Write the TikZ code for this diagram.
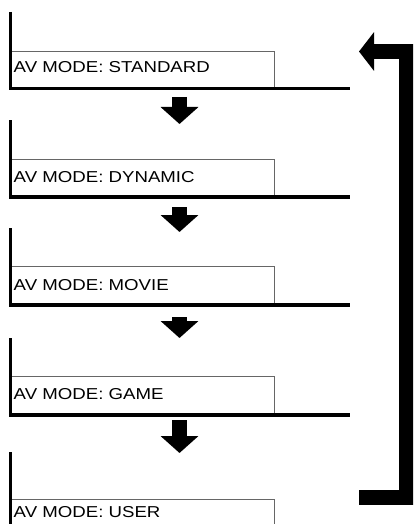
\documentclass[tikz,border=0pt]{standalone}
\usepackage{fontspec}
\setmainfont{Liberation Sans}[FakeStretch=1.18]
\usetikzlibrary{arrows.meta}
\begin{document}
\begin{tikzpicture}[x=1pt,y=-1pt,
  modebox/.style={draw=black!60, line width=0.9pt, rectangle, inner sep=0pt,
    anchor=north west, minimum width=263.5pt},
  heavy/.style={line width=3.2pt, line join=miter},
  modetext/.style={inner sep=0pt, anchor=base west, font=\fontsize{15.8}{18}\selectfont},
  fatarrow/.style={line width=15pt, -{Triangle[width=37pt,length=17pt]}},
  feedbackline/.style={line width=15.5pt, line join=miter, -{Triangle[width=38pt,length=15pt]}}]
\useasboundingbox (0,0) rectangle (413,524);
\clip (0,0) rectangle (413,524);
\coordinate (rx) at (350,0);

% boxes
\node[modebox, minimum height=37pt] (box1) at (10.5,51) {};
\node[modebox, minimum height=37pt] (box2) at (10.5,159) {};
\node[modebox, minimum height=38pt] (box3) at (10.5,266) {};
\node[modebox, minimum height=38pt] (box4) at (10.5,376) {};
\node[modebox, minimum height=40pt] (box5) at (10.5,499) {};

% heavy left and bottom edges
\draw[heavy] ([yshift=39pt]box1.north west) -- (box1.south west) -- (box1.south west -| rx);
\draw[heavy] ([yshift=39pt]box2.north west) -- (box2.south west) -- (box2.south west -| rx);
\draw[heavy] ([yshift=38pt]box3.north west) -- (box3.south west) -- (box3.south west -| rx);
\draw[heavy] ([yshift=38pt]box4.north west) -- (box4.south west) -- (box4.south west -| rx);
\draw[heavy] ([yshift=47pt]box5.north west) -- (box5.south west) -- (box5.south west -| rx);

% texts
\node[modetext] (t1) at (13.5,73) {AV MODE: STANDARD};
\node[modetext] (t2) at (13.5,182) {AV MODE: DYNAMIC};
\node[modetext] (t3) at (13.5,290) {AV MODE: MOVIE};
\node[modetext] (t4) at (13.5,399) {AV MODE: GAME};
\node[modetext] (t5) at (13.5,517) {AV MODE: USER};

% down arrows
\coordinate (a1s) at (179.5,97);  \coordinate (a1e) at (179.5,124);
\coordinate (a2s) at (179.5,207); \coordinate (a2e) at (179.5,232);
\coordinate (a3s) at (179.5,317); \coordinate (a3e) at (179.5,338);
\coordinate (a4s) at (179.5,420); \coordinate (a4e) at (179.5,453);
\draw[fatarrow] (a1s) -- (a1e);
\draw[fatarrow] (a2s) -- (a2e);
\draw[fatarrow] (a3s) -- (a3e);
\draw[fatarrow] (a4s) -- (a4e);

% feedback arrow
\coordinate (fbs) at (359,497.5);
\coordinate (fbc) at (406.5,51.5);
\coordinate (fbe) at (359,51.5);
\draw[feedbackline] (fbs) -| (fbc) -- (fbe);
\end{tikzpicture}
\end{document}
